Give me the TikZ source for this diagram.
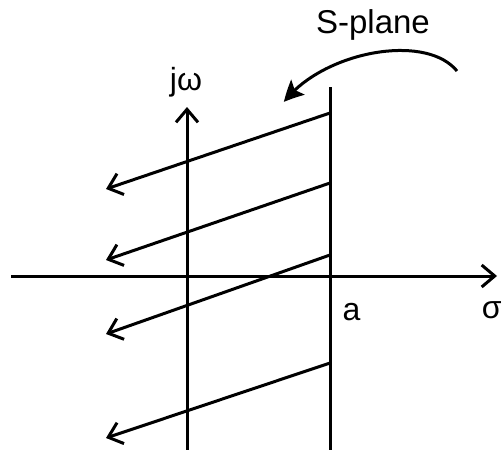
\documentclass[tikz,border=0pt]{standalone}
\usepackage{fontspec}
\setmainfont{Liberation Sans}
\usetikzlibrary{arrows.meta, bending}

\begin{document}
\begin{tikzpicture}[
    x=1pt, y=-1pt,
    line width=3pt,
    axis/.style={-{Straight Barb[length=13pt, width=22pt]}},
    ray/.style={-{Straight Barb[length=13pt, width=22pt]}},
    hint/.style={-{Stealth[length=20pt, width=20pt, inset=4pt, bend]}},
    lbl/.style={font=\fontsize{32}{36}\selectfont, inner sep=0pt}
]
\useasboundingbox (0,0) rectangle (504,450);

% Define points
\coordinate (W) at (11,276);
\coordinate (E) at (497,276);
\coordinate (S) at (187,450);
\coordinate (N) at (187,107);
\coordinate (Abot) at (330,450);
\coordinate (Atop) at (330,87);

% Define axes
\draw[axis] (W) -- (E);
\draw[axis] (S) -- (N);
\draw (Abot) -- (Atop);

% Define labels
\node[lbl, anchor=base] (jw) at (186,90) {jω};
\node[lbl, anchor=base west] (a) at (341,320) {a};
\node[lbl, anchor=base east] (sigma) at (503,318) {σ};
\node[lbl, font=\fontsize{33}{36}\selectfont, anchor=base] (splane) at (373,33) {S-plane};

% Define rays
\foreach \i/\ya/\yb in {1/113/189, 2/183/260, 3/255/334, 4/363/438} {
  \coordinate (r\i) at (330,\ya);
  \coordinate (t\i) at (106,\yb);
  \draw[ray] (r\i) -- (t\i);
}

% S-plane pointer
\coordinate (p0) at (457,71);
\coordinate (p1) at (284,102);
\draw[hint] (p0) .. controls (425,32) and (322,52) .. (p1);

\end{tikzpicture}
\end{document}
